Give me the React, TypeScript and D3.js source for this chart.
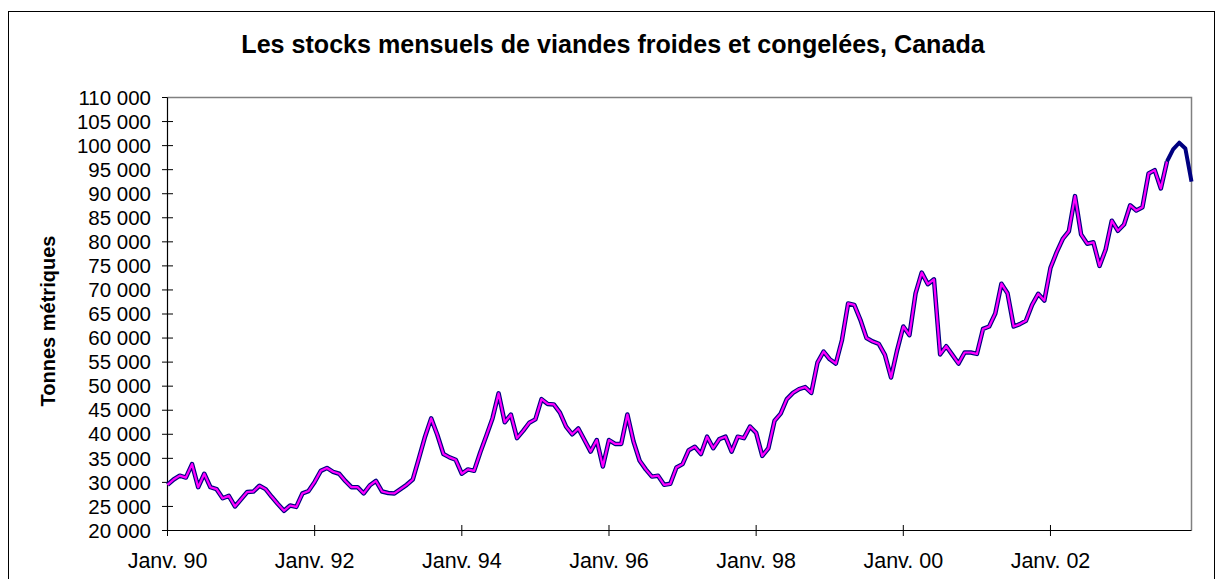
import React from "react";
import * as d3 from "d3";

// Monthly stocks (tonnes), January to December of each year
const y1990 = [29500, 30600, 31400, 31000, 33800, 29000, 31800, 29000, 28600, 26700, 27200, 25000];
const y1991 = [26500, 28000, 28100, 29300, 28600, 27000, 25500, 24100, 25200, 24900, 27700, 28200];
const y1992 = [30100, 32400, 33000, 32200, 31800, 30300, 29000, 29000, 27700, 29400, 30300, 28100];
const y1993 = [27800, 27700, 28600, 29500, 30600, 35000, 39500, 43300, 39900, 35900, 35200, 34700];
const y1994 = [31800, 32700, 32400, 36200, 39700, 43300, 48500, 42500, 44100, 39200, 40700, 42400];
const y1995 = [43100, 47300, 46300, 46200, 44500, 41600, 40000, 41200, 38800, 36400, 38800, 33300];
const y1996 = [38800, 38000, 38000, 44100, 38500, 34500, 32700, 31200, 31400, 29500, 29700, 33100];
const y1997 = [33800, 36700, 37400, 35900, 39500, 37100, 39000, 39500, 36400, 39500, 39200, 41600];
const y1998 = [40300, 35500, 37100, 42800, 44300, 47300, 48600, 49400, 49800, 48600, 54900, 57200];
const y1999 = [55600, 54700, 59600, 67200, 66900, 63800, 60000, 59300, 58800, 56500, 51800, 57500];
const y2000 = [62400, 60600, 69300, 73600, 71200, 72200, 56600, 58300, 56500, 54700, 57000, 57000];
const y2001 = [56700, 61900, 62400, 65100, 71300, 69300, 62400, 62900, 63600, 66900, 69200, 67800];
const y2002 = [74600, 77800, 80600, 82200, 89500, 81500, 79600, 79900, 75000, 78400, 84400, 82300];
const y2003 = [83600, 87600, 86500, 87200, 94200, 94900, 91100, 96700, 99200, 100600, 99400, 92500];

const stocks = [
  ...y1990, ...y1991, ...y1992, ...y1993, ...y1994, ...y1995, ...y1996,
  ...y1997, ...y1998, ...y1999, ...y2000, ...y2001, ...y2002, ...y2003,
];
// the last months are shown as a separate (dark) series
const recentStartIndex = 163;

const xTickLabels = ["Janv. 90", "Janv. 92", "Janv. 94", "Janv. 96", "Janv. 98", "Janv. 00", "Janv. 02"];
const xTickEvery = 24;
const yTicks = [20000, 25000, 30000, 35000, 40000, 45000, 50000, 55000, 60000, 65000, 70000, 75000, 80000, 85000, 90000, 95000, 100000, 105000, 110000];

const title = "Les stocks mensuels de viandes froides et congelées, Canada";
const yTitle = "Tonnes métriques";

const W = 1223;
const H = 579;
const L = 167.5, R = 1191.5, T = 97.5, B = 530.5;

export default function App() {
  const x = d3.scaleLinear().domain([0, stocks.length - 1]).range([L, R]);
  const y = d3.scaleLinear().domain([20000, 110000]).range([B, T]);
  const line = d3.line<number>().x((_, i) => x(i)).y((d) => y(d));
  const lineRecent = d3
    .line<number>()
    .x((_, i) => x(i + recentStartIndex))
    .y((d) => y(d));
  const mainData = stocks.slice(0, recentStartIndex + 1);
  const recentData = stocks.slice(recentStartIndex);
  const fmt = (v: number) => d3.format(",")(v).replace(/,/g, " ");
  const font = "'Liberation Sans', Arial, sans-serif";

  return (
    <svg
      width={W}
      height={H}
      style={{ position: "absolute", left: 0, top: 0, background: "#fff" }}
      fontFamily={font}
    >
      <rect x={0} y={0} width={W} height={H} fill="#fff" />
      <rect x={8.5} y={11.5} width={1206} height={620} fill="none" stroke="#000" strokeWidth={1} />
      <text x={613} y={52.5} textAnchor="middle" fontSize={25.1} fontWeight="bold" fill="#000">
        {title}
      </text>
      <text
        transform={`translate(55,321) rotate(-90)`}
        textAnchor="middle"
        fontSize={20}
        fontWeight="bold"
        fill="#000"
      >
        {yTitle}
      </text>
      {/* plot area border (top/right gray) */}
      <path d={`M${L},${T}H${R}V${B}`} fill="none" stroke="#808080" strokeWidth={1.5} />
      {/* axes */}
      <line x1={L} y1={T} x2={L} y2={B} stroke="#000" strokeWidth={1.2} />
      <line x1={L} y1={B} x2={R} y2={B} stroke="#000" strokeWidth={1.2} />
      {yTicks.map((v) => (
        <g key={v}>
          <line x1={L - 5.5} x2={v === 110000 ? L : L + 5.5} y1={y(v)} y2={y(v)} stroke="#000" strokeWidth={1} />
          <text x={151} y={y(v)} dy="0.35em" textAnchor="end" fontSize={20.5} fill="#000">
            {fmt(v)}
          </text>
        </g>
      ))}
      {xTickLabels.map((lab, k) => (
        <g key={lab}>
          <line x1={x(k * xTickEvery)} x2={x(k * xTickEvery)} y1={B - 5.5} y2={B + 5.5} stroke="#000" strokeWidth={1} />
          <text x={x(k * xTickEvery)} y={568} textAnchor="middle" fontSize={21.5} fill="#000">
            {lab}
          </text>
        </g>
      ))}
      <path d={line(mainData) || ""} fill="none" stroke="#000080" strokeWidth={4.5} strokeLinejoin="round" />
      <path d={line(mainData) || ""} fill="none" stroke="#FF00FF" strokeWidth={2.2} strokeLinejoin="round" />
      <path d={lineRecent(recentData) || ""} fill="none" stroke="#000080" strokeWidth={4} strokeLinejoin="round" />
    </svg>
  );
}
